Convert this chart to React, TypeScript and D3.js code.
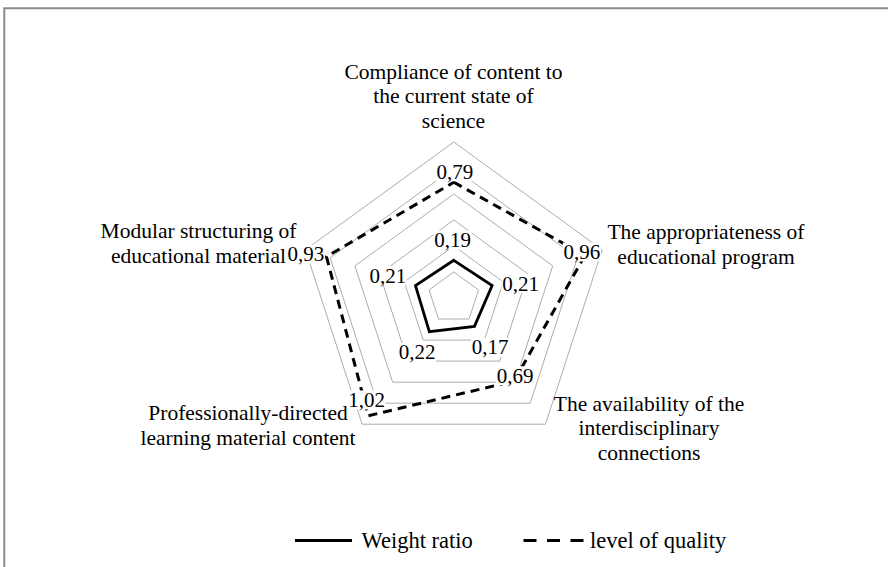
import React from "react";
import * as d3 from "d3";

// criteria around the radar, one array of lines per axis
const categories = [
  ["Compliance of content to", "the current state of", "science"],
  ["The appropriateness of", "educational program"],
  ["The availability of the", "interdisciplinary", "connections"],
  ["Professionally-directed", "learning material content"],
  ["Modular structuring of", "educational material"],
];
const weightRatio = [0.19, 0.21, 0.17, 0.22, 0.21];
const qualityLevel = [0.79, 0.96, 0.69, 1.02, 0.93];
const ringTicks = [0.1, 0.3, 0.5, 0.7, 0.9, 1.1];
const seriesNames = ["Weight ratio", "level of quality"];

const W = 888;
const H = 567;
const cx = 453.8;
const cy = 298;
const radius = 156;
const lineGap = 24.9;
const font = "'Liberation Serif', 'Times New Roman', serif";

// where each category block sits (first baseline)
const catPos = [
  { x: 453.5, y: 78.5 },
  { x: 706, y: 239 },
  { x: 649, y: 410.5 },
  { x: 248, y: 420 },
  { x: 198.5, y: 238 },
];
// data label nudges relative to the vertex
const qualityOffsets = [[1, -10.5], [-3, -3.4], [1, -5.3], [-1.7, -15.8], [-20.5, -2.2]];
const weightOffsets = [[-1.3, -20.3], [28.4, -2], [15.6, 21.1], [-12.3, 20.8], [-27.5, -10]];

const fmt = (v: number) => v.toFixed(2).replace(".", ",");

export default function App() {
  const r = d3.scaleLinear().domain([-0.1, 1.1]).range([0, radius]);
  const angle = d3.scaleLinear().domain([0, categories.length]).range([0, 2 * Math.PI]);

  const radial = d3
    .lineRadial<number>()
    .angle((d, i) => angle(i))
    .radius((d) => r(d))
    .curve(d3.curveLinearClosed);

  const point = (v: number, i: number) => {
    const a = angle(i);
    return [cx + r(v) * Math.sin(a), cy - r(v) * Math.cos(a)];
  };

  const valueLabel = (v: number, i: number, off: number[], key: string) => {
    const [px, py] = point(v, i);
    const x = px + off[0];
    const y = py + off[1];
    return (
      <g key={key}>
        <rect x={x - 19} y={y - 9.5} width={38} height={19} fill="#fff" />
        <text x={x} y={y} textAnchor="middle" dominantBaseline="central" fontSize={21} fontFamily={font} fill="#000">
          {fmt(v)}
        </text>
      </g>
    );
  };

  return (
    <div style={{ position: "absolute", left: 0, top: 0 }}>
      <svg width={W} height={H} style={{ display: "block", background: "#fff" }}>
        <path d={`M4.3,${H} V8.3 H${W}`} fill="none" stroke="#8c8c8c" strokeWidth={2} />

        <g transform={`translate(${cx},${cy})`}>
          {ringTicks.map((t) => (
            <path key={t} d={radial(categories.map(() => t)) || ""} fill="none" stroke="#adadad" strokeWidth={1} />
          ))}
          <path d={radial(weightRatio) || ""} fill="none" stroke="#000" strokeWidth={2.8} strokeLinejoin="miter" />
          <path d={radial(qualityLevel) || ""} fill="none" stroke="#000" strokeWidth={3} strokeDasharray="9,6" />
        </g>

        {qualityLevel.map((v, i) => valueLabel(v, i, qualityOffsets[i], "q" + i))}
        {weightRatio.map((v, i) => valueLabel(v, i, weightOffsets[i], "w" + i))}

        {categories.map((lines, i) => (
          <text key={i} x={catPos[i].x} y={catPos[i].y} textAnchor="middle" fontSize={21.5} fontFamily={font} fill="#000">
            {lines.map((l, j) => (
              <tspan key={j} x={catPos[i].x} dy={j === 0 ? 0 : lineGap}>
                {l}
              </tspan>
            ))}
          </text>
        ))}

        <g fontFamily={font} fontSize={22.5} fill="#000">
          <line x1={295} x2={352} y1={540.5} y2={540.5} stroke="#000" strokeWidth={2.8} />
          <text x={361.5} y={548}>{seriesNames[0]}</text>
          <line x1={523.5} x2={583.5} y1={540.5} y2={540.5} stroke="#000" strokeWidth={3} strokeDasharray="13,10.5" />
          <text x={590} y={548}>{seriesNames[1]}</text>
        </g>
      </svg>
    </div>
  );
}
